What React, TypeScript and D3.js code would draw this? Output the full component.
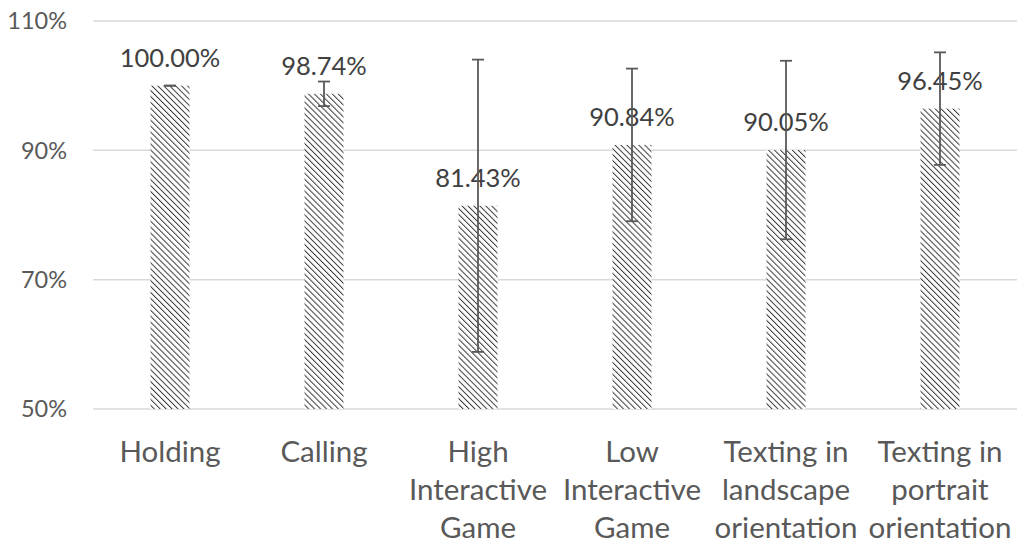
import React from "react";
import * as d3 from "d3";

const categories: string[][] = [
  ["Holding"],
  ["Calling"],
  ["High", "Interactive", "Game"],
  ["Low", "Interactive", "Game"],
  ["Texting in", "landscape", "orientation"],
  ["Texting in", "portrait", "orientation"],
];
const values = [100.0, 98.74, 81.43, 90.84, 90.05, 96.45];
const errors = [0, 1.9, 22.6, 11.8, 13.8, 8.7];
const yTicks = [50, 70, 90, 110];

const W = 1024;
const H = 549;
const left = 93;
const right = 1017;
const top = 21;
const bottom = 409;
const FONT = "Lato, 'Open Sans', sans-serif";

export default function App() {
  const x = d3
    .scaleBand<number>()
    .domain(d3.range(values.length))
    .range([left, right])
    .paddingInner(0)
    .paddingOuter(0);
  const y = d3.scaleLinear().domain([50, 110]).range([bottom, top]);
  const barW = 39;
  const cap = 6;
  const gray = "#595959";

  return (
    <svg
      width={W}
      height={H}
      style={{ position: "absolute", left: 0, top: 0, background: "#fff" }}
    >
      <defs>
        <pattern
          id="hatch"
          width="4.2"
          height="4.2"
          patternUnits="userSpaceOnUse"
          patternTransform="rotate(-45)"
        >
          <rect width="4.2" height="4.2" fill="#fff" />
          <line x1="0" y1="0" x2="0" y2="4.2" stroke="#3a3a3a" strokeWidth="2" />
        </pattern>
      </defs>
      {yTicks.map((t) => (
        <g key={t}>
          <line
            x1={left}
            x2={right}
            y1={y(t)}
            y2={y(t)}
            stroke="#d9d9d9"
            strokeWidth={1.5}
          />
          <text
            x={67}
            y={y(t)}
            dy="0.35em"
            textAnchor="end"
            fontFamily={FONT}
            fontSize={23.5}
            fill={gray}
          >
            {t}%
          </text>
        </g>
      ))}
      {values.map((v, i) => {
        const cx = (x(i) as number) + x.bandwidth() / 2;
        return (
          <g key={i}>
            <rect
              x={cx - barW / 2}
              y={y(v)}
              width={barW}
              height={y(50) - y(v)}
              fill="url(#hatch)"
            />
            <text
              x={cx}
              y={y(v) - 19}
              textAnchor="middle"
              fontFamily={FONT}
              fontSize={25.5}
              fill="#404040"
            >
              {v.toFixed(2)}%
            </text>
          </g>
        );
      })}
      {values.map((v, i) => {
        const cx = (x(i) as number) + x.bandwidth() / 2;
        const hi = y(v + errors[i]);
        const lo = y(v - errors[i]);
        return (
          <g key={"e" + i} stroke={gray} strokeWidth={1.8}>
            <line x1={cx} x2={cx} y1={hi} y2={lo} />
            <line x1={cx - cap} x2={cx + cap} y1={hi} y2={hi} />
            <line x1={cx - cap} x2={cx + cap} y1={lo} y2={lo} />
          </g>
        );
      })}
      {categories.map((lines, i) => {
        const cx = (x(i) as number) + x.bandwidth() / 2;
        return (
          <text
            key={"c" + i}
            textAnchor="middle"
            fontFamily={FONT}
            fontSize={29.5}
            fill={gray}
          >
            {lines.map((l, j) => (
              <tspan key={j} x={cx} y={462 + j * 38}>
                {l}
              </tspan>
            ))}
          </text>
        );
      })}
    </svg>
  );
}
